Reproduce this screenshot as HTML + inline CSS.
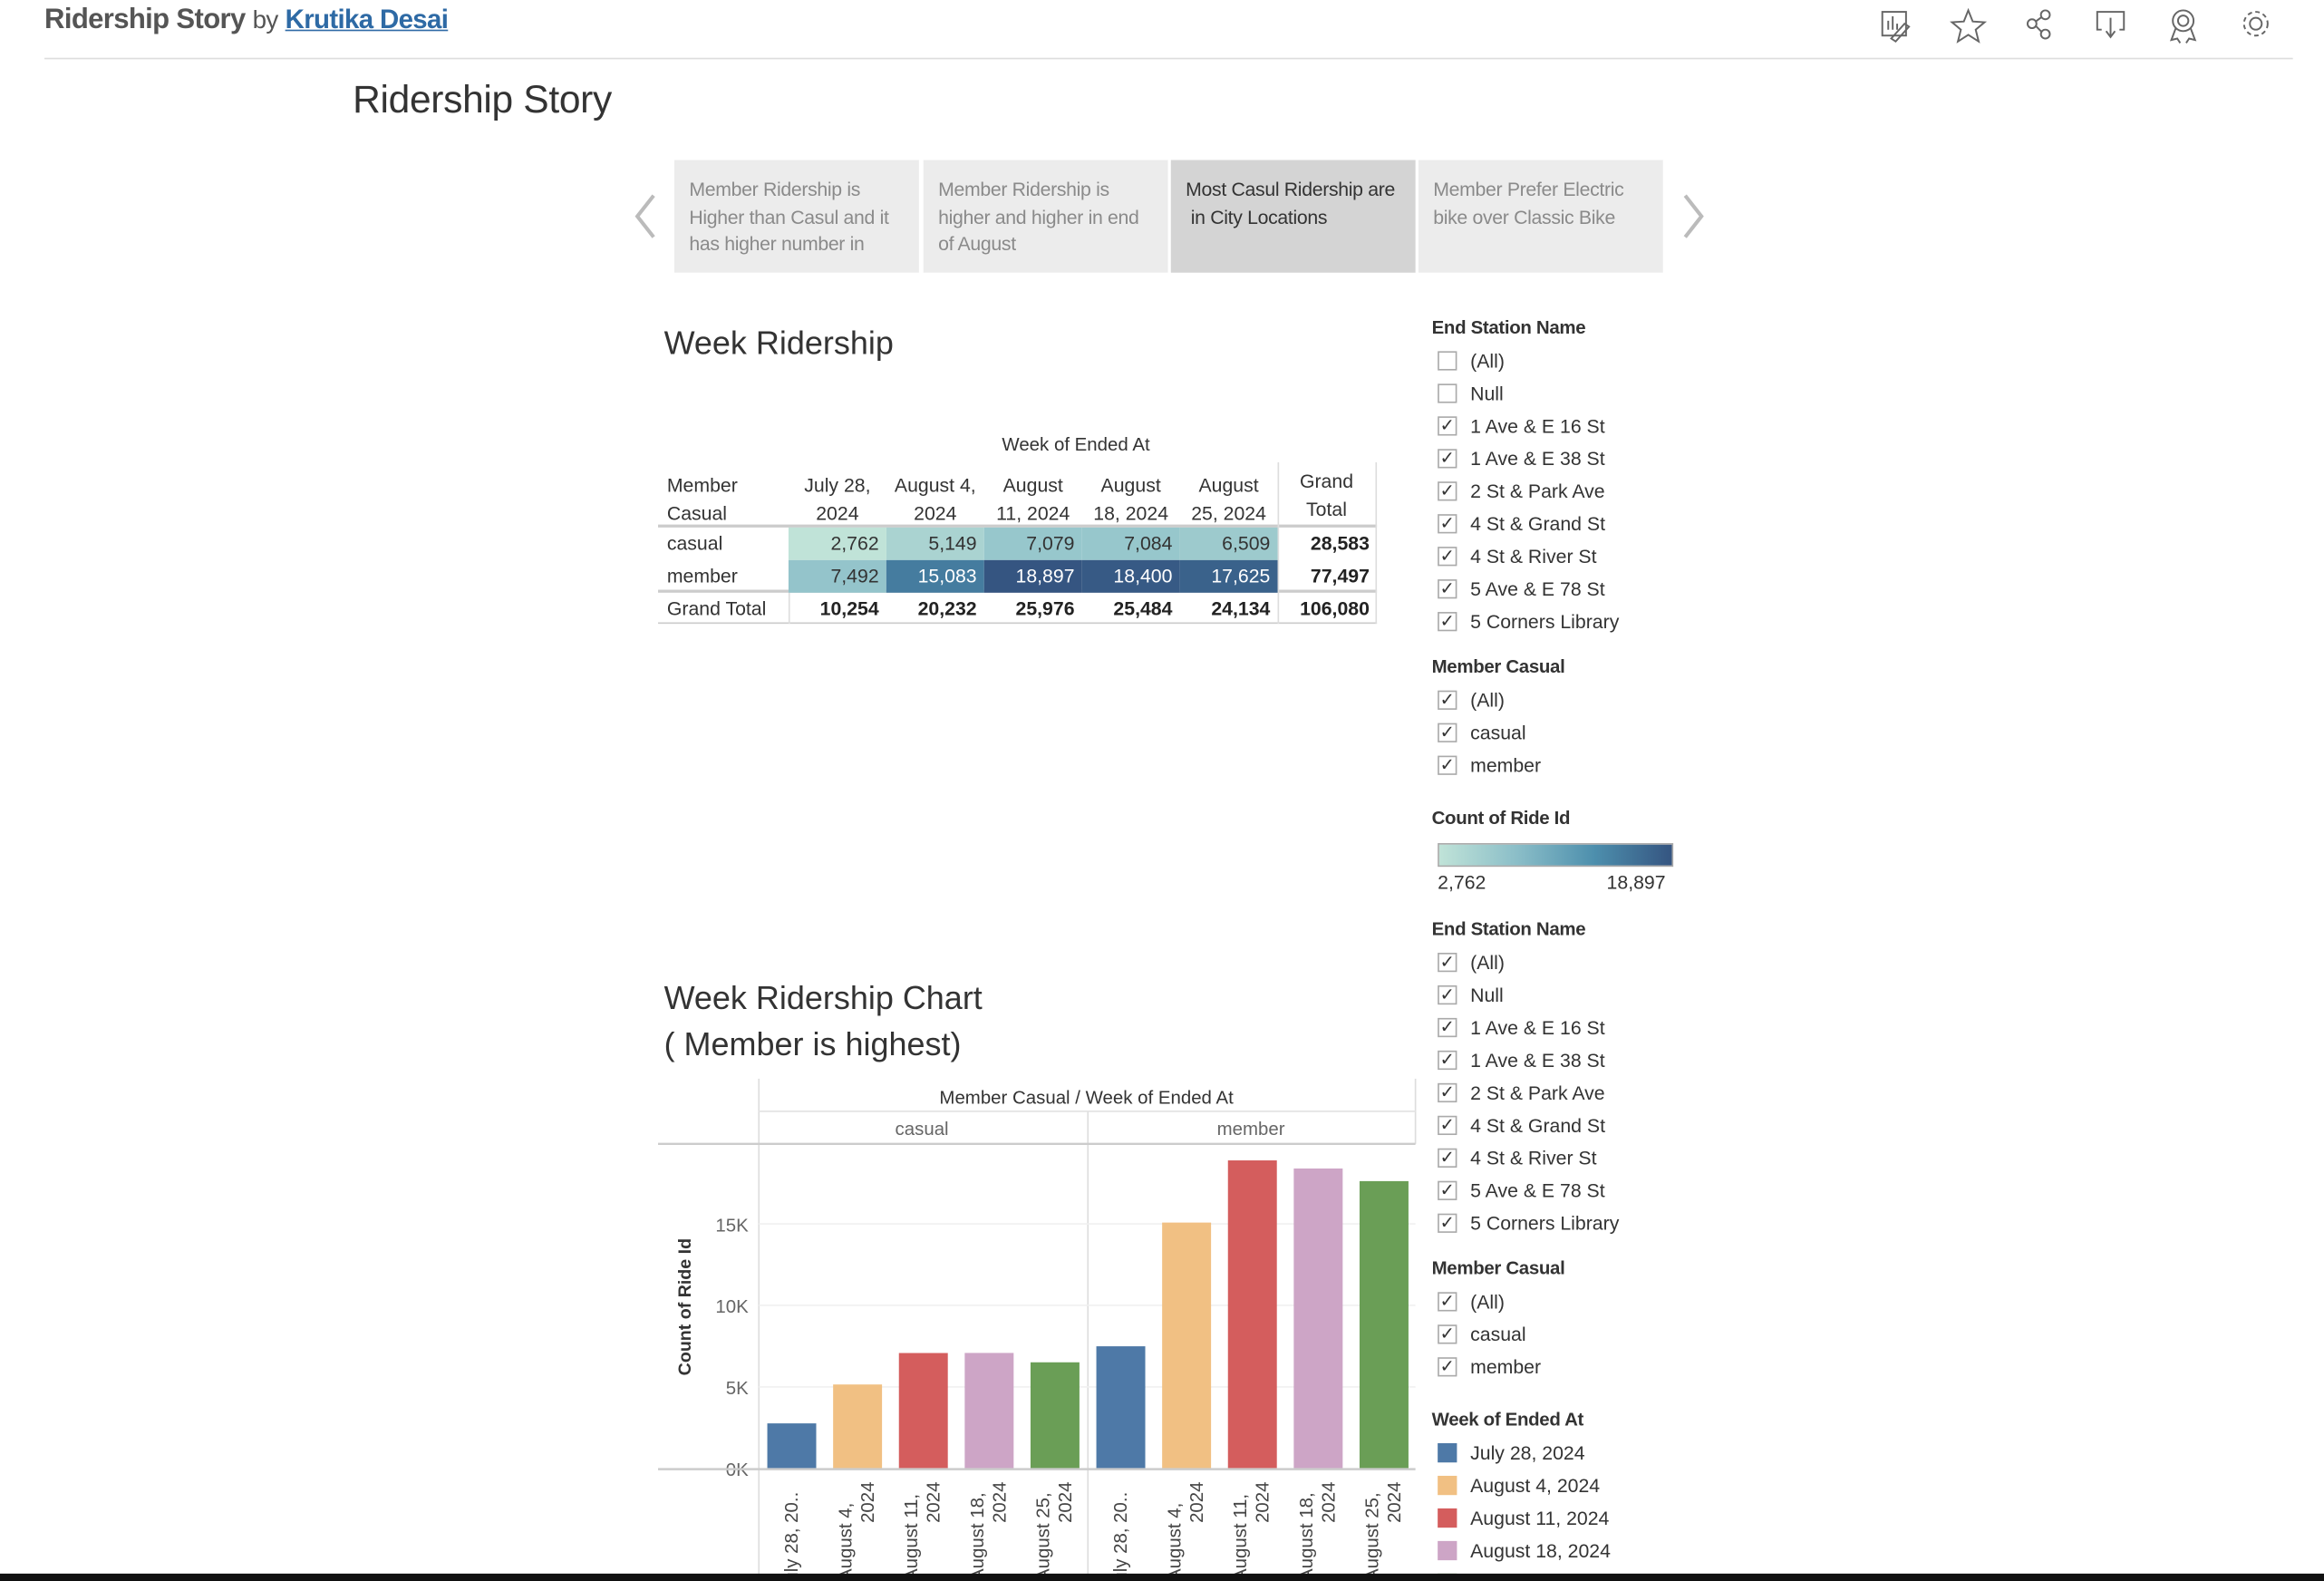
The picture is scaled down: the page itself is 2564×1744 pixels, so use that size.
<!DOCTYPE html>
<html><head><meta charset="utf-8"><style>
html,body{margin:0;padding:0;background:#fff;overflow:hidden;}
body{width:2564px;height:1744px;position:relative;}
#root{position:absolute;left:0;top:0;width:1568px;height:1067px;transform-origin:0 0;transform:scale(1.6352,1.6345);font-family:"Liberation Sans",sans-serif;color:#333;}
.a{position:absolute;white-space:nowrap;}
.story{position:absolute;top:108px;height:76px;width:165px;background:#ececec;color:#8a8a8a;font-size:13px;line-height:18.5px;padding:11px 10px;box-sizing:border-box;white-space:normal;overflow:hidden;letter-spacing:-0.2px;}
.flt{position:absolute;left:966px;font-size:12.5px;color:#333;}
.flt .h{font-weight:bold;color:#333;height:19px;padding-top:3px;letter-spacing:-0.2px;}
.flt .r{height:22px;position:relative;padding-left:26px;line-height:22px;font-size:13px;color:#333;}
.flt .cb{position:absolute;left:4px;top:4px;width:13px;height:13px;border:1px solid #aaa;background:#fff;box-sizing:border-box;font-size:12px;line-height:11px;text-align:center;color:#333;}
.flt .sw{position:absolute;left:4px;top:4px;width:13px;height:13px;}
</style></head><body>
<div id="root">
 <div class="a" style="left:30px;top:3px;font-size:19px;font-weight:bold;color:#555;letter-spacing:-0.4px">Ridership Story <span style="font-weight:normal;font-size:17px;color:#555">by</span> <span style="color:#2e6aa5;text-decoration:underline;font-size:18px">Krutika Desai</span></div>
 <div class="a" style="left:30px;top:39px;width:1517px;height:1px;background:#ddd"></div>
 <svg class="a" style="left:1262px;top:2px" width="280" height="28" viewBox="0 0 280 28" fill="none" stroke="#666" stroke-width="1.2">
  <g><rect x="8" y="6" width="16" height="16"/><path d="M12 18v-6M15 18v-9M18 18v-4M14 24l9-10 3 2-9 10z"/></g>
  <path d="M66 5l3 7.5 8 .5-6 5 2 8-7-4.5-7 4.5 2-8-6-5 8-.5z"/>
  <g><circle cx="109" cy="14" r="3"/><circle cx="118" cy="8" r="3"/><circle cx="118" cy="21" r="3"/><path d="M111.5 12.5l4-3M111.5 15.5l4 4"/></g>
  <g><path d="M156 18h-3V6h18v12h-3M162 10v12M159 19l3 4 3-4"/></g>
  <g><circle cx="211" cy="12" r="7"/><circle cx="211" cy="12" r="3.5"/><path d="M206 17l-3 8 4-1 2 3M216 17l3 8-4-1-2 3"/></g>
  <g><circle cx="260" cy="14" r="4"/><circle cx="260" cy="14" r="8" stroke-dasharray="3 2.3"/></g>
 </svg>
 <div class="a" style="left:238px;top:52px;font-size:26px;color:#333;letter-spacing:-0.2px">Ridership Story</div>

 <svg class="a" style="left:424px;top:128px" width="24" height="36"><path d="M17 4L6 18l11 14" fill="none" stroke="#bbb" stroke-width="2.5"/></svg>
 <div class="story" style="left:455px">Member Ridership is Higher than Casul and it has higher number in</div>
 <div class="story" style="left:623px">Member Ridership is higher and higher in end of August</div>
 <div class="story" style="left:790px;background:#d4d4d4;color:#333">Most Casul Ridership are &nbsp;in City Locations</div>
 <div class="story" style="left:957px">Member Prefer Electric bike over Classic Bike</div>
 <svg class="a" style="left:1131px;top:128px" width="24" height="36"><path d="M6 4l11 14L6 32" fill="none" stroke="#bbb" stroke-width="2.5"/></svg>

 <div class="a" style="left:448px;top:219px;font-size:22px;color:#333">Week Ridership</div>
 <div id="tbl"></div>

 <div class="a" style="left:448px;top:658px;font-size:22px;line-height:31px;color:#333">Week Ridership Chart<br>( Member is highest)</div>
 <svg id="chart" class="a" style="left:0;top:0" width="1568" height="1067"></svg>

 <div class="flt" style="top:211px">
  <div class="h">End Station Name</div>
  <div class="r"><span class="cb"></span>(All)</div>
  <div class="r"><span class="cb"></span>Null</div>
  <div class="r"><span class="cb">✓</span>1 Ave &amp; E 16 St</div>
  <div class="r"><span class="cb">✓</span>1 Ave &amp; E 38 St</div>
  <div class="r"><span class="cb">✓</span>2 St &amp; Park Ave</div>
  <div class="r"><span class="cb">✓</span>4 St &amp; Grand St</div>
  <div class="r"><span class="cb">✓</span>4 St &amp; River St</div>
  <div class="r"><span class="cb">✓</span>5 Ave &amp; E 78 St</div>
  <div class="r"><span class="cb">✓</span>5 Corners Library</div>
 </div>
 <div class="flt" style="top:440px">
  <div class="h">Member Casual</div>
  <div class="r"><span class="cb">✓</span>(All)</div>
  <div class="r"><span class="cb">✓</span>casual</div>
  <div class="r"><span class="cb">✓</span>member</div>
 </div>
 <div class="flt" style="top:542px">
  <div class="h">Count of Ride Id</div>
  <div class="a" style="left:4px;top:27px;width:157px;height:14px;border:1px solid #aaa;background:linear-gradient(to right,#c0e3d8,#8bbec8,#4d8fad,#355581)"></div>
  <div class="a" style="left:4px;top:46px;font-size:13px">2,762</div>
  <div class="a" style="left:118px;top:46px;font-size:13px">18,897</div>
 </div>
 <div class="flt" style="top:617px">
  <div class="h">End Station Name</div>
  <div class="r"><span class="cb">✓</span>(All)</div>
  <div class="r"><span class="cb">✓</span>Null</div>
  <div class="r"><span class="cb">✓</span>1 Ave &amp; E 16 St</div>
  <div class="r"><span class="cb">✓</span>1 Ave &amp; E 38 St</div>
  <div class="r"><span class="cb">✓</span>2 St &amp; Park Ave</div>
  <div class="r"><span class="cb">✓</span>4 St &amp; Grand St</div>
  <div class="r"><span class="cb">✓</span>4 St &amp; River St</div>
  <div class="r"><span class="cb">✓</span>5 Ave &amp; E 78 St</div>
  <div class="r"><span class="cb">✓</span>5 Corners Library</div>
 </div>
 <div class="flt" style="top:846px">
  <div class="h">Member Casual</div>
  <div class="r"><span class="cb">✓</span>(All)</div>
  <div class="r"><span class="cb">✓</span>casual</div>
  <div class="r"><span class="cb">✓</span>member</div>
 </div>
 <div class="flt" style="top:948px">
  <div class="h">Week of Ended At</div>
  <div class="r"><span class="sw" style="background:#4e79a7"></span>July 28, 2024</div>
  <div class="r"><span class="sw" style="background:#f1c083"></span>August 4, 2024</div>
  <div class="r"><span class="sw" style="background:#d45d5d"></span>August 11, 2024</div>
  <div class="r"><span class="sw" style="background:#cda5c6"></span>August 18, 2024</div>
  <div class="r"><span class="sw" style="background:#6a9e56"></span>August 25, 2024</div>
 </div>
 <div class="a" style="left:0;top:1062px;width:1568px;height:5px;background:#111"></div>
</div>
<script>
const weeks = ["July 28, 2024","August 4, 2024","August 11, 2024","August 18, 2024","August 25, 2024"];
const weekHead = [["July 28,","2024"],["August 4,","2024"],["August","11, 2024"],["August","18, 2024"],["August","25, 2024"]];
const tickLabels = [["uly 28, 20.."],["August 4,","2024"],["August 11,","2024"],["August 18,","2024"],["August 25,","2024"]];
const casual = [2762,5149,7079,7084,6509];
const member = [7492,15083,18897,18400,17625];
const yTicks = [0,5000,10000,15000];
const yTickLabels = ["0K","5K","10K","15K"];
const weekColors = ["#4e79a7","#f1c083","#d45d5d","#cda5c6","#6a9e56"];

const NS="http://www.w3.org/2000/svg";
function fmt(n){return n.toLocaleString('en-US');}
const stops=[[0,[192,227,216]],[0.35,[139,190,200]],[0.65,[77,143,173]],[1,[53,85,129]]];
function ramp(v){const mn=2762,mx=18897;let t=Math.max(0,Math.min(1,(v-mn)/(mx-mn)));
 for(let i=1;i<stops.length;i++){if(t<=stops[i][0]){const a=stops[i-1],b=stops[i];const u=(t-a[0])/(b[0]-a[0]);
 return 'rgb('+a[1].map((c,k)=>Math.round(c+(b[1][k]-c)*u)).join(',')+')';}}return 'rgb(53,85,129)';}

const tbl=document.getElementById('tbl');
function div(css,txt,name,inter){const d=document.createElement('div');d.className='a';d.style.cssText=css;if(txt!==undefined)d.innerHTML=txt;
 
 
 tbl.appendChild(d);return d;}
const colX=x=>532+x*66, rowY=[356,378,400];
div('left:676px;top:293px;font-size:12.5px;color:#333','Week of Ended At','column-header-title',false);
div('left:450px;top:318px;font-size:13px;line-height:19px','Member<br>Casual','row-header-title',false);
weeks.forEach((w,i)=>{div('left:'+colX(i)+'px;top:318px;width:66px;text-align:center;font-size:13px;line-height:19px',weekHead[i][0]+'<br>'+weekHead[i][1],'col-header-'+i,false);});
div('left:862px;top:315px;width:66px;text-align:center;font-size:13px;line-height:19px','Grand<br>Total','col-header-grand-total',false);
div('left:444px;top:354px;width:485px;height:2px;background:#ccc','','header-rule',false);
div('left:444px;top:398px;width:485px;height:2px;background:#ccc','','total-rule',false);
div('left:444px;top:420px;width:485px;height:1px;background:#ccc','','bottom-rule',false);
div('left:862px;top:312px;width:1px;height:109px;background:#ddd','','total-col-rule',false);
div('left:928px;top:312px;width:1px;height:109px;background:#ddd','','right-rule',false);
div('left:532px;top:400px;width:1px;height:21px;background:#ddd','','label-col-rule',false);
const rows=[["casual",casual],["member",member]];
rows.forEach((r,ri)=>{
 const y=rowY[ri];
 div('left:450px;top:'+(y+3)+'px;font-size:13px',r[0],'row-label-'+r[0],false);
 let s=0;
 r[1].forEach((v,i)=>{s+=v;const c=ramp(v);const dark=v>12000;
  div('left:'+colX(i)+'px;top:'+y+'px;width:66px;height:22px;background:'+c+';box-sizing:border-box;padding-right:5px;text-align:right;line-height:22px;font-size:13px;color:'+(dark?'#fff':'#333'),fmt(v),'cell-'+r[0]+'-'+i,true);});
 div('left:862px;top:'+y+'px;width:66px;box-sizing:border-box;padding-right:4px;text-align:right;line-height:22px;font-size:13px;font-weight:bold;color:#222',fmt(s),'total-'+r[0],false);
});
div('left:450px;top:403px;font-size:13px','Grand Total','row-label-grand-total',false);
let gt=0;
weeks.forEach((w,i)=>{const v=casual[i]+member[i];gt+=v;
 div('left:'+colX(i)+'px;top:400px;width:66px;box-sizing:border-box;padding-right:5px;text-align:right;line-height:22px;font-size:13px;font-weight:bold;color:#222',fmt(v),'grand-total-'+i,false);});
div('left:862px;top:400px;width:66px;box-sizing:border-box;padding-right:4px;text-align:right;line-height:22px;font-size:13px;font-weight:bold;color:#222',fmt(gt),'grand-total-all',false);

const svg=document.getElementById('chart');
function el(t,attrs,txt){const e=document.createElementNS(NS,t);for(const k in attrs)e.setAttribute(k,attrs[k]);if(txt!==undefined)e.textContent=txt;svg.appendChild(e);return e;}
const plotL=512, mid=734, plotR=955, y0=991, pxPerUnit=11/1000;
const yScale=v=>y0-v*pxPerUnit;
const bandW=(mid-plotL)/weeks.length;
const xScale=(panel,i)=>(panel===0?plotL:mid)+bandW*i+bandW/2;
const barW=33;
let e;
e=el('line',{x1:512,y1:728,x2:512,y2:1067,stroke:'#ddd'});

e=el('line',{x1:734,y1:750,x2:734,y2:1067,stroke:'#ddd'});

e=el('line',{x1:955,y1:728,x2:955,y2:772,stroke:'#ddd'});

e=el('line',{x1:512,y1:750,x2:955,y2:750,stroke:'#e4e4e4'});

e=el('line',{x1:444,y1:772,x2:955,y2:772,stroke:'#ccc','stroke-width':1.5});

e=el('text',{x:733,y:745,'text-anchor':'middle','font-size':12.5,fill:'#333'},'Member Casual / Week of Ended At');

e=el('text',{x:622,y:766,'text-anchor':'middle','font-size':12.5,fill:'#666'},'casual');

e=el('text',{x:844,y:766,'text-anchor':'middle','font-size':12.5,fill:'#666'},'member');

yTicks.forEach((t,i)=>{
 if(t>0){const g=el('line',{x1:plotL,x2:plotR,y1:yScale(t),y2:yScale(t),stroke:'#f0f0f0'});
 }
 const tx=el('text',{x:505,y:yScale(t)+5,'text-anchor':'end','font-size':12.5,fill:'#666'},yTickLabels[i]);
 
});
e=el('text',{transform:'translate(466,882) rotate(-90)','text-anchor':'middle','font-size':12,'font-weight':'bold',fill:'#333'},'Count of Ride Id');

[casual,member].forEach((series,p)=>{
 series.forEach((v,i)=>{
  const x=xScale(p,i);
  const b=el('rect',{x:x-barW/2,y:yScale(v),width:barW,height:y0-yScale(v),fill:weekColors[i]});
  
  
  const lab=tickLabels[i];
  const t=el('text',{transform:'translate('+(x+4)+',1000) rotate(-90)','text-anchor':'end','font-size':12.5,fill:'#444'});
  
  
  if(lab.length===1){const ts=document.createElementNS(NS,'tspan');t.setAttribute('transform','translate('+(x+4)+',998) rotate(-90)');ts.setAttribute('x',-70);ts.setAttribute('dy',0);ts.setAttribute('text-anchor','start');ts.textContent=lab[0];t.appendChild(ts);}
  else{const a=document.createElementNS(NS,'tspan');a.setAttribute('x',-67);a.setAttribute('text-anchor','start');a.setAttribute('dy',-8);a.textContent=lab[0];t.appendChild(a);
   const c=document.createElementNS(NS,'tspan');c.setAttribute('x',0);c.setAttribute('dy',15);c.textContent=lab[1];t.appendChild(c);}
 });
});
e=el('line',{x1:444,y1:y0+0.5,x2:955,y2:y0+0.5,stroke:'#ccc','stroke-width':1.5});

</script>
</body></html>
